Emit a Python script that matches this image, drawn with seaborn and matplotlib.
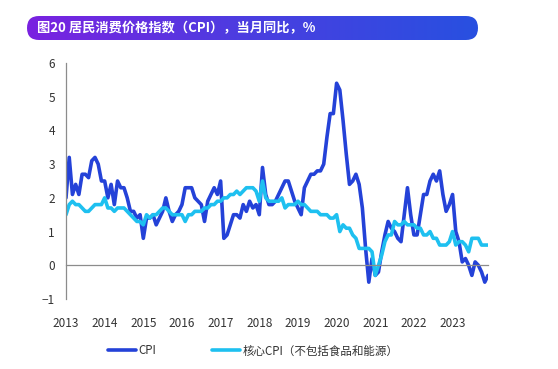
import numpy as np
import pandas as pd
import matplotlib
matplotlib.use('Agg')
import matplotlib.pyplot as plt
from matplotlib.patches import FancyBboxPatch
import seaborn as sns

# monthly YoY, Jan 2013 - Dec 2023
cpi = [
    2.0, 3.2, 2.1, 2.4, 2.1, 2.7, 2.7, 2.6, 3.1, 3.2, 3.0, 2.5,
    2.5, 2.0, 2.4, 1.8, 2.5, 2.3, 2.3, 2.0, 1.6, 1.6, 1.4, 1.5,
    0.8, 1.4, 1.4, 1.5, 1.2, 1.4, 1.6, 2.0, 1.6, 1.3, 1.5, 1.6,
    1.8, 2.3, 2.3, 2.3, 2.0, 1.9, 1.8, 1.3, 1.9, 2.1, 2.3, 2.1,
    2.5, 0.8, 0.9, 1.2, 1.5, 1.5, 1.4, 1.8, 1.6, 1.9, 1.7, 1.8,
    1.5, 2.9, 2.1, 1.8, 1.8, 1.9, 2.1, 2.3, 2.5, 2.5, 2.2, 1.9,
    1.7, 1.5, 2.3, 2.5, 2.7, 2.7, 2.8, 2.8, 3.0, 3.8, 4.5, 4.5,
    5.4, 5.2, 4.3, 3.3, 2.4, 2.5, 2.7, 2.4, 1.7, 0.5, -0.5, 0.2,
    -0.3, -0.2, 0.4, 0.9, 1.3, 1.1, 1.0, 0.8, 0.7, 1.5, 2.3, 1.5,
    0.9, 0.9, 1.5, 2.1, 2.1, 2.5, 2.7, 2.5, 2.8, 2.1, 1.6, 1.8,
    2.1, 1.0, 0.7, 0.1, 0.2, 0.0, -0.3, 0.1, 0.0, -0.2, -0.5, -0.3,
]
core = [
    1.5, 1.8, 1.9, 1.8, 1.8, 1.7, 1.6, 1.6, 1.7, 1.8, 1.8, 1.8,
    2.0, 1.7, 1.7, 1.6, 1.7, 1.7, 1.7, 1.6, 1.5, 1.4, 1.3, 1.3,
    1.2, 1.5, 1.4, 1.5, 1.5, 1.6, 1.7, 1.7, 1.6, 1.5, 1.5, 1.5,
    1.5, 1.3, 1.5, 1.5, 1.6, 1.6, 1.6, 1.7, 1.7, 1.8, 1.8, 1.9,
    1.9, 2.0, 2.0, 2.1, 2.1, 2.2, 2.1, 2.2, 2.3, 2.3, 2.3, 2.2,
    1.9, 2.5, 2.0, 1.9, 1.9, 1.9, 1.9, 2.0, 1.7, 1.8, 1.8, 1.8,
    1.9, 1.8, 1.8, 1.7, 1.6, 1.6, 1.6, 1.5, 1.5, 1.5, 1.4, 1.4,
    1.5, 1.0, 1.2, 1.1, 1.1, 0.9, 0.8, 0.5, 0.5, 0.5, 0.5, 0.4,
    -0.3, 0.0, 0.3, 0.7, 0.9, 0.9, 1.3, 1.2, 1.2, 1.3, 1.2, 1.2,
    1.2, 1.1, 1.1, 0.9, 0.9, 1.0, 0.8, 0.8, 0.6, 0.6, 0.6, 0.7,
    1.0, 0.6, 0.7, 0.7, 0.6, 0.4, 0.8, 0.8, 0.8, 0.6, 0.6, 0.6,
]
years = list(range(2013, 2024))
series_names = ['CPI', '核心CPI（不包括食品和能源）']
colors = ['#2442d8', '#1ec0f0']
title = '图20 居民消费价格指数（CPI），当月同比，%'

t = 2013 + np.arange(len(cpi)) / 12
df = pd.concat([
    pd.DataFrame({'t': t, 'v': cpi, 's': series_names[0]}),
    pd.DataFrame({'t': t, 'v': core, 's': series_names[1]}),
])

sns.set_style('white')
plt.rcParams['font.family'] = ['Noto Sans CJK SC', 'DejaVu Sans']

fig = plt.figure(figsize=(5.58, 3.69), dpi=100)
ax = fig.add_axes([66 / 558, 1 - 299 / 369, (488 - 66) / 558, (299 - 63) / 369])

sns.lineplot(data=df, x='t', y='v', hue='s', hue_order=series_names,
             palette=colors, linewidth=2.6, ax=ax, legend=False)

ax.set_xlim(2013, 2013 + (len(cpi) - 1) / 12)
ax.set_ylim(-1, 6)
ax.set_xticks(years)
ax.set_xticklabels([str(y) for y in years])
ax.set_yticks(range(-1, 7))
ax.set_xlabel('')
ax.set_ylabel('')

for s in ['top', 'right']:
    ax.spines[s].set_visible(False)
ax.spines['bottom'].set_position(('data', 0))
for s in ['left', 'bottom']:
    ax.spines[s].set_color('#8c8c8c')
    ax.spines[s].set_linewidth(0.9)
ax.tick_params(axis='both', direction='out', length=4, width=0.9,
               color='#8c8c8c', labelsize=8.5, labelcolor='#333333')
ax.tick_params(axis='x', pad=33)
ax.tick_params(axis='y', pad=4)

# legend
handles = [plt.Line2D([], [], color=c, lw=2.6) for c in colors]
fig.legend(handles, series_names, loc='center', ncol=2, frameon=False,
           bbox_to_anchor=(253 / 558, 1 - 351 / 369), fontsize=8.3,
           handlelength=2.4, handletextpad=0.2, columnspacing=4.9,
           labelcolor='#333333')

# title banner with gradient
bx0, bx1, by0, by1 = 27, 478, 16, 40
bw, bh = bx1 - bx0, by1 - by0
bax = fig.add_axes([bx0 / 558, 1 - by1 / 369, bw / 558, bh / 369])
bax.set_axis_off()
grad = np.linspace(0, 1, 256).reshape(1, -1)
cmap = matplotlib.colors.LinearSegmentedColormap.from_list('ban', ['#7a22e0', '#4a3ee0', '#2850e0'])
im = bax.imshow(grad, extent=[0, bw, 0, bh], aspect='auto', cmap=cmap)
bax.set_xlim(0, bw)
bax.set_ylim(0, bh)
clip = FancyBboxPatch((0, 0), bw, bh, boxstyle='round,pad=0,rounding_size=%d' % (bh // 2),
                      transform=bax.transData, facecolor='none', edgecolor='none')
bax.add_patch(clip)
im.set_clip_path(clip)
bax.text(10, bh / 2, title, color='white', fontsize=9.5, fontweight='bold',
         va='center', ha='left')

fig.savefig('out.png', dpi=100, facecolor='white')
